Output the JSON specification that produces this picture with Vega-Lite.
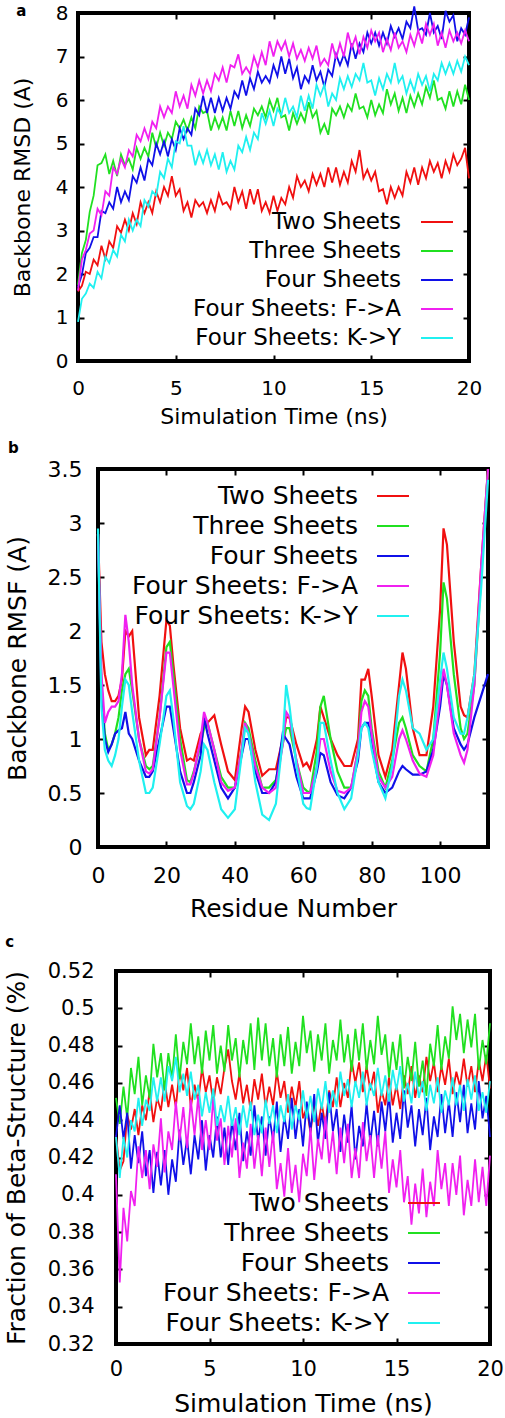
{
"$schema":"https://vega.github.io/schema/vega-lite/v6.json",
"padding":{"left":-5,"top":0,"right":0,"bottom":0},
"spacing":10,
"resolve":{"scale":{"color":"independent"},"legend":{"color":"independent"}},
"config":{
 "font":"DejaVu Sans",
 "view":{"stroke":"#000","strokeWidth":4},
 "axis":{"grid":false,"domain":false,"tickColor":"#000","tickSize":-6,"tickWidth":2,"labelColor":"#000","titleColor":"#000","titleFontWeight":"normal","labelFlush":false,"labelOverlap":false,"labelBound":false,"format":"~f"},
 "title":{"anchor":"start","frame":"bounds","fontWeight":"bold","fontSize":15,"color":"#000"},
 "legend":{"orient":"none","title":null,"labelAlign":"right","symbolOffset":0,"symbolType":"stroke","symbolSize":1024,"symbolStrokeWidth":2,"labelLimit":400,"padding":0,"labelColor":"#000","rowPadding":0}
},
"vconcat":[
{"hconcat":[
{"width":11,"height":1,"view":{"stroke":null},"data":{"values":[{}]},"mark":{"type":"point","opacity":0},"encoding":{}},
{
 "title":{"text":"a","offset":-16,"dx":5},
 "width":391,"height":348,
 "data":{"values":[
{"t":0,"a":1.6,"b":1.75,"c":1.7,"d":1.62,"e":0.9},
{"t":0.2,"a":1.73,"b":2.48,"c":1.98,"d":2.33,"e":1.43},
{"t":0.4,"a":2.05,"b":2.78,"c":2.48,"d":2.55,"e":1.55},
{"t":0.6,"a":2.0,"b":3.43,"c":2.6,"d":2.93,"e":1.78},
{"t":0.8,"a":2.33,"b":3.8,"c":2.85,"d":3.0,"e":1.68},
{"t":1.0,"a":2.2,"b":4.5,"c":2.85,"d":3.5,"e":2.05},
{"t":1.2,"a":2.65,"b":4.55,"c":3.45,"d":3.35,"e":1.9},
{"t":1.4,"a":2.35,"b":4.75,"c":3.4,"d":3.9,"e":2.4},
{"t":1.6,"a":2.75,"b":4.3,"c":3.65,"d":3.8,"e":2.25},
{"t":1.8,"a":2.6,"b":4.6,"c":3.5,"d":4.45,"e":2.55},
{"t":2.0,"a":3.1,"b":4.25,"c":4.0,"d":4.3,"e":2.4},
{"t":2.2,"a":2.95,"b":4.75,"c":3.65,"d":4.65,"e":2.9},
{"t":2.4,"a":3.25,"b":4.5,"c":3.9,"d":4.45,"e":2.75},
{"t":2.6,"a":3.0,"b":4.65,"c":3.7,"d":4.85,"e":3.25},
{"t":2.8,"a":3.4,"b":4.4,"c":4.25,"d":4.7,"e":3.0},
{"t":3.0,"a":3.15,"b":4.9,"c":4.1,"d":5.2,"e":3.25},
{"t":3.2,"a":3.65,"b":4.65,"c":4.45,"d":5.05,"e":3.1},
{"t":3.4,"a":3.4,"b":4.9,"c":4.15,"d":5.35,"e":3.7},
{"t":3.6,"a":3.65,"b":4.7,"c":4.65,"d":5.1,"e":3.55},
{"t":3.8,"a":3.4,"b":5.25,"c":4.5,"d":5.5,"e":3.9},
{"t":4.0,"a":3.9,"b":4.9,"c":5.0,"d":5.35,"e":3.8},
{"t":4.2,"a":3.65,"b":5.25,"c":4.75,"d":5.85,"e":4.35},
{"t":4.4,"a":4.0,"b":4.95,"c":5.05,"d":5.6,"e":4.2},
{"t":4.6,"a":3.8,"b":5.25,"c":4.7,"d":5.85,"e":4.65},
{"t":4.8,"a":4.25,"b":5.1,"c":5.1,"d":5.7,"e":4.45},
{"t":5.0,"a":3.8,"b":5.5,"c":4.85,"d":6.2,"e":5.05},
{"t":5.2,"a":3.95,"b":5.35,"c":5.35,"d":5.85,"e":5.0},
{"t":5.4,"a":3.45,"b":5.55,"c":5.1,"d":6.1,"e":5.4},
{"t":5.6,"a":3.65,"b":5.3,"c":5.35,"d":5.8,"e":4.95},
{"t":5.8,"a":3.3,"b":5.6,"c":5.2,"d":6.35,"e":4.95},
{"t":6.0,"a":3.7,"b":5.35,"c":5.8,"d":6.1,"e":4.5},
{"t":6.2,"a":3.55,"b":5.85,"c":5.65,"d":6.45,"e":4.8},
{"t":6.4,"a":3.65,"b":5.7,"c":6.1,"d":6.15,"e":4.55},
{"t":6.6,"a":3.4,"b":5.75,"c":5.7,"d":6.45,"e":4.85},
{"t":6.8,"a":3.7,"b":5.3,"c":6.05,"d":6.2,"e":4.5},
{"t":7.0,"a":3.45,"b":5.6,"c":5.7,"d":6.6,"e":4.75},
{"t":7.2,"a":3.85,"b":5.35,"c":6.05,"d":6.45,"e":4.4},
{"t":7.4,"a":3.6,"b":5.6,"c":5.75,"d":6.75,"e":4.8},
{"t":7.6,"a":3.65,"b":5.3,"c":6.05,"d":6.4,"e":4.35},
{"t":7.8,"a":3.5,"b":5.75,"c":5.8,"d":6.8,"e":4.6},
{"t":8.0,"a":4.0,"b":5.4,"c":6.2,"d":6.75,"e":4.4},
{"t":8.2,"a":3.65,"b":5.75,"c":6.05,"d":7.05,"e":4.95},
{"t":8.4,"a":3.9,"b":5.35,"c":6.45,"d":6.6,"e":4.8},
{"t":8.6,"a":3.5,"b":5.65,"c":6.1,"d":6.75,"e":5.15},
{"t":8.8,"a":3.95,"b":5.4,"c":6.5,"d":6.6,"e":4.85},
{"t":9.0,"a":3.6,"b":5.8,"c":6.25,"d":7.0,"e":5.25},
{"t":9.2,"a":3.95,"b":5.65,"c":6.65,"d":6.75,"e":5.1},
{"t":9.4,"a":3.45,"b":5.85,"c":6.4,"d":7.1,"e":5.7},
{"t":9.6,"a":3.65,"b":5.6,"c":6.55,"d":6.8,"e":5.45},
{"t":9.8,"a":3.4,"b":6.0,"c":6.4,"d":7.35,"e":5.75},
{"t":10.0,"a":3.8,"b":5.75,"c":6.8,"d":7.0,"e":5.4},
{"t":10.2,"a":3.45,"b":6.05,"c":6.55,"d":7.35,"e":5.8},
{"t":10.4,"a":3.75,"b":5.6,"c":7.0,"d":7.15,"e":5.65},
{"t":10.6,"a":3.6,"b":5.65,"c":6.6,"d":7.35,"e":6.05},
{"t":10.8,"a":4.0,"b":5.3,"c":6.95,"d":7.0,"e":5.7},
{"t":11.0,"a":3.75,"b":5.7,"c":6.5,"d":7.3,"e":5.85},
{"t":11.2,"a":4.25,"b":5.45,"c":6.75,"d":6.95,"e":5.6},
{"t":11.4,"a":4.0,"b":5.7,"c":6.25,"d":7.15,"e":6.1},
{"t":11.6,"a":4.15,"b":5.5,"c":6.55,"d":6.9,"e":5.75},
{"t":11.8,"a":3.9,"b":5.95,"c":6.4,"d":7.2,"e":6.1},
{"t":12.0,"a":4.3,"b":5.6,"c":6.8,"d":6.95,"e":5.8},
{"t":12.2,"a":4.05,"b":5.75,"c":6.45,"d":7.25,"e":6.35},
{"t":12.4,"a":4.3,"b":5.25,"c":6.65,"d":6.8,"e":6.1},
{"t":12.6,"a":4.0,"b":5.45,"c":6.3,"d":6.95,"e":6.35},
{"t":12.8,"a":4.45,"b":5.2,"c":6.7,"d":6.8,"e":5.85},
{"t":13.0,"a":4.1,"b":5.8,"c":6.55,"d":7.3,"e":6.15},
{"t":13.2,"a":4.45,"b":5.65,"c":7.05,"d":6.95,"e":6.0},
{"t":13.4,"a":4.05,"b":5.85,"c":6.8,"d":7.3,"e":6.5},
{"t":13.6,"a":4.35,"b":5.6,"c":7.05,"d":7.0,"e":6.25},
{"t":13.8,"a":4.1,"b":5.9,"c":6.8,"d":7.55,"e":6.55},
{"t":14.0,"a":4.6,"b":5.75,"c":7.3,"d":7.2,"e":6.3},
{"t":14.2,"a":4.35,"b":6.15,"c":6.95,"d":7.45,"e":6.6},
{"t":14.4,"a":4.85,"b":5.8,"c":7.3,"d":7.05,"e":6.45},
{"t":14.6,"a":4.2,"b":5.85,"c":7.1,"d":7.45,"e":6.85},
{"t":14.8,"a":4.4,"b":5.6,"c":7.55,"d":7.2,"e":6.4},
{"t":15.0,"a":4.15,"b":6.0,"c":7.3,"d":7.6,"e":6.45},
{"t":15.2,"a":4.35,"b":5.65,"c":7.55,"d":7.35,"e":6.1},
{"t":15.4,"a":3.9,"b":5.9,"c":7.25,"d":7.55,"e":6.5},
{"t":15.6,"a":3.95,"b":5.7,"c":7.55,"d":7.1,"e":6.25},
{"t":15.8,"a":3.6,"b":6.25,"c":7.3,"d":7.4,"e":6.6},
{"t":16.0,"a":4.0,"b":5.9,"c":7.7,"d":7.15,"e":6.4},
{"t":16.2,"a":3.75,"b":6.15,"c":7.45,"d":7.55,"e":6.85},
{"t":16.4,"a":4.0,"b":5.75,"c":7.65,"d":7.2,"e":6.4},
{"t":16.6,"a":3.8,"b":6.05,"c":7.4,"d":7.35,"e":6.55},
{"t":16.8,"a":4.35,"b":5.7,"c":7.8,"d":7.1,"e":6.15},
{"t":17.0,"a":4.1,"b":6.1,"c":7.65,"d":7.5,"e":6.45},
{"t":17.2,"a":4.45,"b":5.85,"c":8.15,"d":7.25,"e":6.2},
{"t":17.4,"a":4.05,"b":6.15,"c":7.6,"d":7.6,"e":6.6},
{"t":17.6,"a":4.45,"b":5.9,"c":7.65,"d":7.3,"e":6.35},
{"t":17.8,"a":4.2,"b":6.3,"c":7.5,"d":7.75,"e":6.55},
{"t":18.0,"a":4.6,"b":6.05,"c":8.0,"d":7.5,"e":6.2},
{"t":18.2,"a":4.35,"b":6.45,"c":7.55,"d":7.75,"e":6.6},
{"t":18.4,"a":4.55,"b":6.0,"c":7.7,"d":7.25,"e":6.45},
{"t":18.6,"a":4.2,"b":6.05,"c":7.4,"d":7.55,"e":6.85},
{"t":18.8,"a":4.6,"b":5.8,"c":8.05,"d":7.2,"e":6.6},
{"t":19.0,"a":4.35,"b":6.2,"c":7.8,"d":7.6,"e":6.85},
{"t":19.2,"a":4.75,"b":5.85,"c":7.95,"d":7.35,"e":6.6},
{"t":19.4,"a":4.5,"b":6.2,"c":7.35,"d":7.55,"e":6.9},
{"t":19.6,"a":4.65,"b":5.9,"c":7.65,"d":7.3,"e":6.65},
{"t":19.8,"a":4.9,"b":6.35,"c":7.5,"d":7.6,"e":7.0},
{"t":20.0,"a":4.2,"b":6.0,"c":7.9,"d":7.35,"e":6.8}
 ]},
 "transform":[{"fold":["a","b","c","d","e"],"as":["s","v"]}],
 "layer":[
 {"mark":{"type":"line","strokeWidth":1.8},
  "encoding":{
  "x":{"field":"t","type":"quantitative","scale":{"domain":[0,20],"nice":false},
   "axis":{"values":[0,5,10,15,20],"title":"Simulation Time (ns)","labelFontSize":20,"titleFontSize":22,"labelPadding":23,"titlePadding":8}},
  "y":{"field":"v","type":"quantitative","scale":{"domain":[0,8],"nice":false},
   "axis":{"values":[0,1,2,3,4,5,6,7,8],"title":"Backbone RMSD (A)","labelFontSize":20,"titleFontSize":22,"labelPadding":16,"titlePadding":21}},
  "color":{"field":"s","type":"nominal","scale":{"domain":["a","b","c","d","e"],"range":["#f01010","#20e020","#1010e8","#f020f0","#20f0f0"]},
   "legend":{"legendX":342,"legendY":192,"labelOffset":-53,"labelFontSize":23,
    "labelExpr":"{'a':'Two Sheets','b':'Three Sheets','c':'Four Sheets','d':'Four Sheets: F->A','e':'Four Sheets: K->Y'}[datum.label]"}}
  }},
 {"mark":{"type":"line","opacity":0},
  "encoding":{
  "x":{"field":"t","type":"quantitative","axis":{"orient":"top","values":[0,5,10,15,20],"labels":false,"title":null}},
  "y":{"field":"v","type":"quantitative","axis":{"orient":"right","values":[0,1,2,3,4,5,6,7,8],"labels":false,"title":null}}
  }}
 ],
 "resolve":{"axis":{"x":"independent","y":"independent"}}
}],"spacing":0,"resolve":{"scale":{"color":"independent"},"legend":{"color":"independent"}}},
{"hconcat":[
{"width":4,"height":1,"view":{"stroke":null},"data":{"values":[{}]},"mark":{"type":"point","opacity":0},"encoding":{}},
{
 "title":{"text":"b","offset":2,"dx":3},
 "width":390,"height":378,
 "data":{"values":[
{"r":0,"a":2.9,"b":2.9,"c":2.9,"d":2.9,"e":2.95},
{"r":1,"a":1.9,"b":1.5,"c":1.4,"d":1.6,"e":1.3},
{"r":2,"a":1.6,"b":1.05,"c":1.0,"d":1.15,"e":0.9},
{"r":3,"a":1.45,"b":0.9,"c":0.88,"d":1.25,"e":0.8},
{"r":4,"a":1.35,"b":0.95,"c":0.95,"d":1.3,"e":0.75},
{"r":5,"a":1.35,"b":1.05,"c":1.05,"d":1.3,"e":0.85},
{"r":6,"a":1.4,"b":1.2,"c":1.08,"d":1.35,"e":1.0},
{"r":7,"a":1.55,"b":1.45,"c":1.1,"d":1.6,"e":1.3},
{"r":8,"a":2.0,"b":1.6,"c":1.25,"d":2.15,"e":1.55},
{"r":9,"a":1.95,"b":1.65,"c":1.05,"d":1.9,"e":1.5},
{"r":10,"a":2.0,"b":1.45,"c":1.0,"d":1.5,"e":1.25},
{"r":12,"a":1.2,"b":1.0,"c":0.8,"d":1.0,"e":0.8},
{"r":14,"a":0.85,"b":0.75,"c":0.65,"d":0.7,"e":0.5},
{"r":15,"a":0.9,"b":0.72,"c":0.65,"d":0.68,"e":0.5},
{"r":16,"a":0.9,"b":0.75,"c":0.7,"d":0.72,"e":0.55},
{"r":18,"a":1.4,"b":1.2,"c":1.0,"d":1.2,"e":0.95},
{"r":20,"a":2.1,"b":1.85,"c":1.3,"d":1.8,"e":1.4},
{"r":21,"a":2.05,"b":1.9,"c":1.3,"d":1.8,"e":1.45},
{"r":22,"a":1.7,"b":1.6,"c":1.1,"d":1.5,"e":1.2},
{"r":24,"a":1.1,"b":1.0,"c":0.7,"d":0.9,"e":0.6},
{"r":26,"a":0.8,"b":0.62,"c":0.5,"d":0.58,"e":0.38},
{"r":27,"a":0.82,"b":0.6,"c":0.5,"d":0.58,"e":0.35},
{"r":28,"a":0.8,"b":0.7,"c":0.6,"d":0.68,"e":0.4},
{"r":30,"a":1.05,"b":0.95,"c":0.85,"d":1.0,"e":0.7},
{"r":31,"a":1.1,"b":1.1,"c":1.2,"d":1.25,"e":0.95},
{"r":32,"a":1.15,"b":1.15,"c":1.05,"d":1.15,"e":0.9},
{"r":34,"a":1.22,"b":0.9,"c":0.8,"d":0.9,"e":0.6},
{"r":36,"a":0.95,"b":0.65,"c":0.55,"d":0.6,"e":0.35},
{"r":38,"a":0.7,"b":0.55,"c":0.45,"d":0.52,"e":0.27},
{"r":40,"a":0.62,"b":0.55,"c":0.55,"d":0.55,"e":0.35},
{"r":42,"a":1.1,"b":0.9,"c":0.85,"d":0.9,"e":0.85},
{"r":43,"a":1.3,"b":1.15,"c":1.0,"d":1.15,"e":1.1},
{"r":44,"a":1.25,"b":1.1,"c":1.0,"d":1.05,"e":1.05},
{"r":46,"a":0.9,"b":0.8,"c":0.7,"d":0.75,"e":0.6},
{"r":48,"a":0.66,"b":0.55,"c":0.5,"d":0.55,"e":0.3},
{"r":50,"a":0.72,"b":0.55,"c":0.5,"d":0.5,"e":0.25},
{"r":52,"a":0.72,"b":0.62,"c":0.6,"d":0.55,"e":0.4},
{"r":54,"a":1.0,"b":0.95,"c":1.05,"d":0.95,"e":1.0},
{"r":55,"a":1.2,"b":1.1,"c":1.0,"d":1.25,"e":1.5},
{"r":56,"a":1.2,"b":1.1,"c":0.95,"d":1.2,"e":1.3},
{"r":58,"a":0.95,"b":0.8,"c":0.65,"d":0.8,"e":0.75},
{"r":60,"a":0.75,"b":0.55,"c":0.45,"d":0.5,"e":0.4},
{"r":61,"a":0.78,"b":0.52,"c":0.45,"d":0.5,"e":0.36},
{"r":62,"a":0.72,"b":0.5,"c":0.45,"d":0.5,"e":0.35},
{"r":64,"a":1.0,"b":0.9,"c":0.7,"d":0.75,"e":0.75},
{"r":65,"a":1.3,"b":1.3,"c":0.87,"d":1.0,"e":1.15},
{"r":66,"a":1.2,"b":1.4,"c":0.85,"d":1.0,"e":1.15},
{"r":68,"a":1.0,"b":1.0,"c":0.6,"d":0.7,"e":0.8},
{"r":70,"a":0.85,"b":0.7,"c":0.48,"d":0.52,"e":0.5},
{"r":72,"a":0.75,"b":0.55,"c":0.45,"d":0.5,"e":0.35},
{"r":74,"a":0.75,"b":0.55,"c":0.55,"d":0.55,"e":0.45},
{"r":76,"a":1.0,"b":0.9,"c":0.8,"d":0.9,"e":0.85},
{"r":77,"a":1.55,"b":1.35,"c":1.1,"d":1.25,"e":1.1},
{"r":78,"a":1.55,"b":1.45,"c":1.15,"d":1.35,"e":1.15},
{"r":79,"a":1.65,"b":1.4,"c":1.15,"d":1.3,"e":1.1},
{"r":80,"a":1.4,"b":1.1,"c":0.95,"d":1.05,"e":0.9},
{"r":82,"a":0.85,"b":0.7,"c":0.6,"d":0.65,"e":0.6},
{"r":84,"a":0.65,"b":0.55,"c":0.5,"d":0.55,"e":0.45},
{"r":86,"a":0.9,"b":0.8,"c":0.55,"d":0.65,"e":0.75},
{"r":88,"a":1.5,"b":1.15,"c":0.7,"d":1.0,"e":1.4},
{"r":89,"a":1.8,"b":1.2,"c":0.75,"d":1.08,"e":1.55},
{"r":90,"a":1.65,"b":1.1,"c":0.72,"d":1.0,"e":1.45},
{"r":92,"a":1.1,"b":0.85,"c":0.67,"d":0.8,"e":1.1},
{"r":94,"a":0.85,"b":0.75,"c":0.67,"d":0.68,"e":1.05},
{"r":96,"a":0.85,"b":0.7,"c":0.7,"d":0.65,"e":0.9},
{"r":98,"a":1.3,"b":1.0,"c":0.9,"d":0.85,"e":1.0},
{"r":100,"a":2.2,"b":1.8,"c":1.3,"d":1.4,"e":1.55},
{"r":101,"a":2.95,"b":2.45,"c":1.6,"d":1.65,"e":1.8},
{"r":102,"a":2.8,"b":2.3,"c":1.5,"d":1.5,"e":1.65},
{"r":104,"a":1.9,"b":1.6,"c":1.1,"d":1.05,"e":1.2},
{"r":106,"a":1.3,"b":1.1,"c":0.95,"d":0.85,"e":1.05},
{"r":107,"a":1.22,"b":1.0,"c":0.9,"d":0.78,"e":1.05},
{"r":108,"a":1.2,"b":1.05,"c":0.95,"d":0.9,"e":1.2},
{"r":110,"a":1.6,"b":1.5,"c":1.2,"d":1.5,"e":1.6},
{"r":112,"a":2.6,"b":2.5,"c":1.4,"d":2.6,"e":2.4},
{"r":114,"a":3.5,"b":3.5,"c":1.6,"d":3.5,"e":3.4}
 ]},
 "transform":[{"fold":["a","b","c","d","e"],"as":["s","v"]}],
 "layer":[
 {"mark":{"type":"line","strokeWidth":2.2},
  "encoding":{
  "x":{"field":"r","type":"quantitative","scale":{"domain":[0,114],"nice":false},
   "axis":{"values":[0,20,40,60,80,100],"title":"Residue Number","labelFontSize":22,"titleFontSize":25,"labelPadding":24,"titlePadding":10}},
  "y":{"field":"v","type":"quantitative","scale":{"domain":[0,3.5],"nice":false},
   "axis":{"values":[0,0.5,1,1.5,2,2.5,3,3.5],"title":"Backbone RMSF (A)","labelFontSize":22,"titleFontSize":25,"labelPadding":22,"titlePadding":17}},
  "color":{"field":"s","type":"nominal","scale":{"domain":["a","b","c","d","e"],"range":["#f01010","#20e020","#1010e8","#f020f0","#20f0f0"]},
   "legend":{"legendX":278,"legendY":10,"labelOffset":-52,"labelFontSize":25,
    "labelExpr":"{'a':'Two Sheets','b':'Three Sheets','c':'Four Sheets','d':'Four Sheets: F->A','e':'Four Sheets: K->Y'}[datum.label]"}}
  }},
 {"mark":{"type":"line","opacity":0},
  "encoding":{
  "x":{"field":"r","type":"quantitative","axis":{"orient":"top","values":[0,20,40,60,80,100],"labels":false,"title":null}},
  "y":{"field":"v","type":"quantitative","axis":{"orient":"right","values":[0,0.5,1,1.5,2,2.5,3,3.5],"labels":false,"title":null}}
  }}
 ],
 "resolve":{"axis":{"x":"independent","y":"independent"}}
}],"spacing":0,"resolve":{"scale":{"color":"independent"},"legend":{"color":"independent"}}},
{"hconcat":[
{"width":1,"height":1,"view":{"stroke":null},"data":{"values":[{}]},"mark":{"type":"point","opacity":0},"encoding":{}},
{
 "title":{"text":"c","offset":10,"dx":1},
 "width":374,"height":373,
 "data":{"values":[
{"t":0,"a":0.432,"b":0.452,"c":0.431,"d":0.411,"e":0.431},
{"t":0.2,"a":0.413,"b":0.438,"c":0.448,"d":0.353,"e":0.409},
{"t":0.4,"a":0.418,"b":0.458,"c":0.430,"d":0.393,"e":0.431},
{"t":0.6,"a":0.443,"b":0.441,"c":0.444,"d":0.375,"e":0.420},
{"t":0.8,"a":0.435,"b":0.468,"c":0.414,"d":0.402,"e":0.440},
{"t":1.0,"a":0.446,"b":0.454,"c":0.432,"d":0.394,"e":0.434},
{"t":1.2,"a":0.432,"b":0.474,"c":0.417,"d":0.426,"e":0.452},
{"t":1.4,"a":0.448,"b":0.448,"c":0.434,"d":0.409,"e":0.437},
{"t":1.6,"a":0.440,"b":0.464,"c":0.410,"d":0.424,"e":0.451},
{"t":1.8,"a":0.456,"b":0.452,"c":0.424,"d":0.403,"e":0.445},
{"t":2.0,"a":0.439,"b":0.481,"c":0.401,"d":0.427,"e":0.463},
{"t":2.2,"a":0.452,"b":0.463,"c":0.423,"d":0.415,"e":0.450},
{"t":2.4,"a":0.445,"b":0.476,"c":0.405,"d":0.441,"e":0.463},
{"t":2.6,"a":0.461,"b":0.456,"c":0.424,"d":0.412,"e":0.450},
{"t":2.8,"a":0.447,"b":0.476,"c":0.400,"d":0.434,"e":0.469},
{"t":3.0,"a":0.459,"b":0.462,"c":0.419,"d":0.424,"e":0.461},
{"t":3.2,"a":0.447,"b":0.486,"c":0.407,"d":0.450,"e":0.474},
{"t":3.4,"a":0.467,"b":0.462,"c":0.435,"d":0.429,"e":0.455},
{"t":3.6,"a":0.456,"b":0.482,"c":0.416,"d":0.447,"e":0.465},
{"t":3.8,"a":0.468,"b":0.470,"c":0.430,"d":0.425,"e":0.453},
{"t":4.0,"a":0.447,"b":0.492,"c":0.411,"d":0.451,"e":0.466},
{"t":4.2,"a":0.459,"b":0.470,"c":0.432,"d":0.432,"e":0.451},
{"t":4.4,"a":0.450,"b":0.485,"c":0.419,"d":0.453,"e":0.459},
{"t":4.6,"a":0.468,"b":0.465,"c":0.440,"d":0.424,"e":0.442},
{"t":4.8,"a":0.455,"b":0.488,"c":0.413,"d":0.440,"e":0.455},
{"t":5.0,"a":0.464,"b":0.472,"c":0.432,"d":0.424,"e":0.444},
{"t":5.2,"a":0.449,"b":0.491,"c":0.420,"d":0.452,"e":0.457},
{"t":5.4,"a":0.463,"b":0.465,"c":0.442,"d":0.429,"e":0.437},
{"t":5.6,"a":0.454,"b":0.480,"c":0.420,"d":0.441,"e":0.448},
{"t":5.8,"a":0.468,"b":0.466,"c":0.436,"d":0.416,"e":0.439},
{"t":6.0,"a":0.478,"b":0.491,"c":0.416,"d":0.437,"e":0.453},
{"t":6.2,"a":0.461,"b":0.472,"c":0.440,"d":0.420,"e":0.437},
{"t":6.4,"a":0.451,"b":0.484,"c":0.424,"d":0.441,"e":0.447},
{"t":6.6,"a":0.465,"b":0.463,"c":0.444,"d":0.409,"e":0.432},
{"t":6.8,"a":0.449,"b":0.483,"c":0.418,"d":0.428,"e":0.448},
{"t":7.0,"a":0.459,"b":0.470,"c":0.434,"d":0.414,"e":0.436},
{"t":7.2,"a":0.445,"b":0.492,"c":0.421,"d":0.438,"e":0.450},
{"t":7.4,"a":0.462,"b":0.467,"c":0.448,"d":0.414,"e":0.432},
{"t":7.6,"a":0.451,"b":0.495,"c":0.429,"d":0.432,"e":0.443},
{"t":7.8,"a":0.465,"b":0.472,"c":0.442,"d":0.410,"e":0.433},
{"t":8.0,"a":0.447,"b":0.492,"c":0.421,"d":0.436,"e":0.451},
{"t":8.2,"a":0.458,"b":0.469,"c":0.442,"d":0.415,"e":0.438},
{"t":8.4,"a":0.448,"b":0.484,"c":0.429,"d":0.434,"e":0.448},
{"t":8.6,"a":0.466,"b":0.463,"c":0.450,"d":0.403,"e":0.433},
{"t":8.8,"a":0.452,"b":0.486,"c":0.423,"d":0.417,"e":0.448},
{"t":9.0,"a":0.461,"b":0.469,"c":0.442,"d":0.399,"e":0.439},
{"t":9.2,"a":0.444,"b":0.490,"c":0.430,"d":0.425,"e":0.454},
{"t":9.4,"a":0.458,"b":0.465,"c":0.452,"d":0.401,"e":0.435},
{"t":9.6,"a":0.447,"b":0.482,"c":0.430,"d":0.416,"e":0.448},
{"t":9.8,"a":0.461,"b":0.469,"c":0.446,"d":0.396,"e":0.440},
{"t":10.0,"a":0.441,"b":0.496,"c":0.426,"d":0.422,"e":0.456},
{"t":10.2,"a":0.447,"b":0.476,"c":0.450,"d":0.410,"e":0.441},
{"t":10.4,"a":0.433,"b":0.488,"c":0.434,"d":0.436,"e":0.453},
{"t":10.6,"a":0.450,"b":0.466,"c":0.454,"d":0.408,"e":0.439},
{"t":10.8,"a":0.437,"b":0.486,"c":0.428,"d":0.430,"e":0.457},
{"t":11.0,"a":0.449,"b":0.472,"c":0.444,"d":0.419,"e":0.446},
{"t":11.2,"a":0.437,"b":0.492,"c":0.430,"d":0.442,"e":0.461},
{"t":11.4,"a":0.456,"b":0.465,"c":0.455,"d":0.417,"e":0.444},
{"t":11.6,"a":0.447,"b":0.483,"c":0.434,"d":0.434,"e":0.456},
{"t":11.8,"a":0.463,"b":0.472,"c":0.446,"d":0.411,"e":0.447},
{"t":12.0,"a":0.447,"b":0.494,"c":0.423,"d":0.436,"e":0.466},
{"t":12.2,"a":0.460,"b":0.471,"c":0.443,"d":0.417,"e":0.453},
{"t":12.4,"a":0.452,"b":0.486,"c":0.428,"d":0.438,"e":0.462},
{"t":12.6,"a":0.472,"b":0.466,"c":0.448,"d":0.409,"e":0.447},
{"t":12.8,"a":0.460,"b":0.489,"c":0.419,"d":0.425,"e":0.461},
{"t":13.0,"a":0.471,"b":0.472,"c":0.437,"d":0.409,"e":0.452},
{"t":13.2,"a":0.455,"b":0.492,"c":0.426,"d":0.439,"e":0.466},
{"t":13.4,"a":0.469,"b":0.467,"c":0.449,"d":0.418,"e":0.448},
{"t":13.6,"a":0.456,"b":0.483,"c":0.428,"d":0.432,"e":0.460},
{"t":13.8,"a":0.466,"b":0.470,"c":0.445,"d":0.409,"e":0.453},
{"t":14.0,"a":0.444,"b":0.496,"c":0.426,"d":0.432,"e":0.468},
{"t":14.2,"a":0.456,"b":0.475,"c":0.450,"d":0.414,"e":0.453},
{"t":14.4,"a":0.448,"b":0.486,"c":0.434,"d":0.434,"e":0.464},
{"t":14.6,"a":0.463,"b":0.463,"c":0.454,"d":0.401,"e":0.450},
{"t":14.8,"a":0.448,"b":0.482,"c":0.428,"d":0.419,"e":0.467},
{"t":15.0,"a":0.459,"b":0.467,"c":0.444,"d":0.404,"e":0.456},
{"t":15.2,"a":0.446,"b":0.486,"c":0.430,"d":0.424,"e":0.469},
{"t":15.4,"a":0.464,"b":0.457,"c":0.456,"d":0.396,"e":0.450},
{"t":15.6,"a":0.454,"b":0.474,"c":0.436,"d":0.410,"e":0.460},
{"t":15.8,"a":0.469,"b":0.461,"c":0.448,"d":0.384,"e":0.449},
{"t":16.0,"a":0.452,"b":0.482,"c":0.426,"d":0.406,"e":0.466},
{"t":16.2,"a":0.464,"b":0.458,"c":0.446,"d":0.390,"e":0.452},
{"t":16.4,"a":0.455,"b":0.472,"c":0.432,"d":0.414,"e":0.461},
{"t":16.6,"a":0.474,"b":0.453,"c":0.452,"d":0.388,"e":0.445},
{"t":16.8,"a":0.461,"b":0.481,"c":0.424,"d":0.407,"e":0.459},
{"t":17.0,"a":0.471,"b":0.469,"c":0.442,"d":0.394,"e":0.449},
{"t":17.2,"a":0.455,"b":0.491,"c":0.431,"d":0.424,"e":0.463},
{"t":17.4,"a":0.469,"b":0.467,"c":0.454,"d":0.403,"e":0.444},
{"t":17.6,"a":0.459,"b":0.485,"c":0.433,"d":0.417,"e":0.456},
{"t":17.8,"a":0.473,"b":0.473,"c":0.450,"d":0.394,"e":0.448},
{"t":18.0,"a":0.454,"b":0.501,"c":0.431,"d":0.417,"e":0.463},
{"t":18.2,"a":0.466,"b":0.483,"c":0.455,"d":0.400,"e":0.448},
{"t":18.4,"a":0.458,"b":0.497,"c":0.439,"d":0.421,"e":0.459},
{"t":18.6,"a":0.473,"b":0.476,"c":0.459,"d":0.389,"e":0.445},
{"t":18.8,"a":0.458,"b":0.494,"c":0.433,"d":0.408,"e":0.462},
{"t":19.0,"a":0.469,"b":0.479,"c":0.449,"d":0.394,"e":0.451},
{"t":19.2,"a":0.455,"b":0.497,"c":0.435,"d":0.419,"e":0.464},
{"t":19.4,"a":0.472,"b":0.467,"c":0.461,"d":0.396,"e":0.445},
{"t":19.6,"a":0.461,"b":0.483,"c":0.441,"d":0.415,"e":0.455},
{"t":19.8,"a":0.475,"b":0.470,"c":0.453,"d":0.394,"e":0.444},
{"t":20.0,"a":0.457,"b":0.492,"c":0.431,"d":0.421,"e":0.461}
 ]},
 "transform":[{"fold":["a","b","c","d","e"],"as":["s","v"]}],
 "layer":[
 {"mark":{"type":"line","strokeWidth":1.8},
  "encoding":{
  "x":{"field":"t","type":"quantitative","scale":{"domain":[0,20],"nice":false},
   "axis":{"values":[0,5,10,15,20],"title":"Simulation Time (ns)","labelFontSize":21,"titleFontSize":25,"labelPadding":20,"titlePadding":12}},
  "y":{"field":"v","type":"quantitative","scale":{"domain":[0.32,0.52],"nice":false,"zero":false},
   "axis":{"values":[0.32,0.34,0.36,0.38,0.4,0.42,0.44,0.46,0.48,0.5,0.52],"title":"Fraction of Beta-Structure (%)","labelFontSize":21,"titleFontSize":25,"labelPadding":28,"titlePadding":18}},
  "color":{"field":"s","type":"nominal","scale":{"domain":["a","b","c","d","e"],"range":["#f01010","#20e020","#1010e8","#f020f0","#20f0f0"]},
   "legend":{"legendX":291,"legendY":215,"labelOffset":-52,"labelFontSize":25,
    "labelExpr":"{'a':'Two Sheets','b':'Three Sheets','c':'Four Sheets','d':'Four Sheets: F->A','e':'Four Sheets: K->Y'}[datum.label]"}}
  }},
 {"mark":{"type":"line","opacity":0},
  "encoding":{
  "x":{"field":"t","type":"quantitative","axis":{"orient":"top","values":[0,5,10,15,20],"labels":false,"title":null}},
  "y":{"field":"v","type":"quantitative","axis":{"orient":"right","values":[0.32,0.34,0.36,0.38,0.4,0.42,0.44,0.46,0.48,0.5,0.52],"labels":false,"title":null}}
  }}
 ],
 "resolve":{"axis":{"x":"independent","y":"independent"}}
}],"spacing":0,"resolve":{"scale":{"color":"independent"},"legend":{"color":"independent"}}}
]
}
